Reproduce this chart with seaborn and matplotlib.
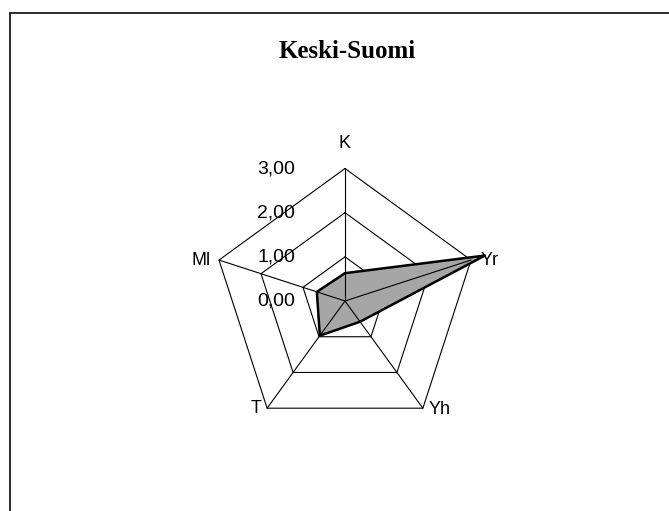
import numpy as np
import seaborn as sns
import matplotlib.pyplot as plt
from matplotlib.patches import Rectangle

categories = ["K", "Yr", "Yh", "T", "Ml"]
values = [0.63, 3.33, 0.58, 0.97, 0.67]
ring_levels = [1, 2, 3]
tick_levels = [0, 1, 2, 3]
tick_labels = ["0,00", "1,00", "2,00", "3,00"]
title = "Keski-Suomi"

sns.set_theme(style="white")
plt.rcParams['font.family'] = ['Liberation Sans', 'DejaVu Sans']

fig = plt.figure(figsize=(6.69, 5.11), dpi=100)
fig.patch.set_facecolor("white")

# outer frame: only left and top edges are inside the picture
fig.patches.append(Rectangle((10 / 669, -0.2), 1.2, 1.2 - 13 / 511,
                             transform=fig.transFigure, fill=False,
                             edgecolor="#1a1a1a", linewidth=1.3))

fig.text(347 / 669, 1 - 51 / 511, title, ha="center", va="center",
         fontsize=18, fontweight="bold", color="black",
         family=["Liberation Serif", "DejaVu Serif"])

ax = fig.add_axes([212.5 / 669, 77.5 / 511, 265 / 669, 265 / 511], projection="polar")
ax.set_theta_offset(np.pi / 2)
ax.set_theta_direction(-1)
ax.set_ylim(0, 3)
ax.grid(False)
ax.spines["polar"].set_visible(False)
ax.set_xticks([])
ax.set_yticks([])
ax.patch.set_alpha(0)

n = len(categories)
angles = np.arange(n) * 2 * np.pi / n
closed = np.append(angles, angles[0])

for r in ring_levels:
    ax.plot(closed, [r] * (n + 1), color="black", lw=0.8, clip_on=False)

vals = np.append(values, values[0])
ax.fill(closed, vals, color="#a6a6a6", clip_on=False, zorder=3)
ax.plot(closed, vals, color="black", lw=1.8, clip_on=False, zorder=4)
# spokes visible through the filled area
for a in angles:
    ax.plot([a, a], [0, 3], color="black", lw=0.8, clip_on=False, zorder=3.5)

for lvl, lab in zip(tick_levels, tick_labels):
    ax.annotate(lab, xy=(0, lvl), xytext=(-36, 0), textcoords="offset points",
                ha="right", va="center", fontsize=14, color="black",
                annotation_clip=False)

offsets = [(0, 18, "center"), (7, 0, "left"), (4, -1, "left"), (-4, 0, "right"), (-6, 0, "right")]
for a, lab, (dx, dy, ha) in zip(angles, categories, offsets):
    ax.annotate(lab, xy=(a, 3), xytext=(dx, dy), textcoords="offset points",
                ha=ha, va="center", fontsize=13, color="black",
                annotation_clip=False)

fig.savefig("out.png", dpi=100, facecolor="white")
